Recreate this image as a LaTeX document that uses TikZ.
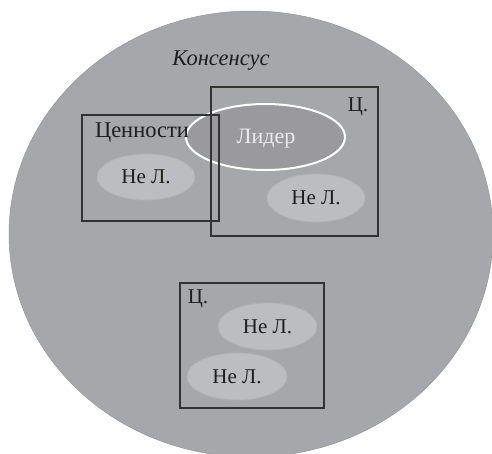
\documentclass[tikz,border=0pt]{standalone}
\usepackage{fontspec}
\setmainfont{Liberation Serif}
\usetikzlibrary{shapes.geometric}
\definecolor{bgray}{HTML}{A6A7AB}
\definecolor{lgray}{HTML}{9A9A9E}
\definecolor{egray}{HTML}{BCBDC0}
\definecolor{eedge}{HTML}{B2B3B6}
\definecolor{lineg}{HTML}{333333}
\definecolor{txt}{HTML}{1E1E1E}
\begin{document}
\begin{tikzpicture}[x=1pt,y=-1pt,
  bigell/.style={ellipse,fill=bgray,draw=bgray!90!black,line width=0.5pt,inner sep=0},
  nel/.style={ellipse,fill=egray,draw=eedge,line width=0.8pt,inner sep=0,font=\fontsize{21}{23}\selectfont,text=txt},
  leader/.style={ellipse,fill=lgray,draw=white,line width=2pt,inner sep=0,font=\fontsize{22}{24}\selectfont,text=white!92!black},
  frame/.style={rectangle,draw=lineg,line width=1.1pt,inner sep=0},
  lbl/.style={inner sep=0,font=\fontsize{21}{23}\selectfont,text=txt}]
\useasboundingbox (0,0) rectangle (492,453);
\fill[white] (0,0) rectangle (492,453);
\node[bigell,minimum width=484pt,minimum height=446pt] (cons) at (251,234) {};
\node[lbl,font=\fontsize{22.5}{24}\selectfont\itshape] (konsensus) at (221,61) {Консенсус};
% leader ellipse
\node[leader,minimum width=159pt,minimum height=66pt] (lider) at (265.5,137) {};
\node[inner sep=0,font=\fontsize{22}{24}\selectfont,text=white!92!black] (lidertxt) at (266,139) {Лидер};
% boxes
\node[frame,minimum width=137pt,minimum height=106pt] (box1) at (150.5,168) {};
\node[frame,minimum width=167pt,minimum height=149pt] (box2) at (294.5,161.5) {};
\node[frame,minimum width=144pt,minimum height=125pt] (box3) at (252,345.5) {};
% labels
\node[lbl,font=\fontsize{22.5}{24}\selectfont] (cen) at (142,133) {Ценности};
\node[lbl] (c1) at (358,107) {Ц.};
\node[lbl] (c2) at (198,299) {Ц.};
% small ellipses
\node[nel,minimum width=98pt,minimum height=46pt] (n1) at (146,177) {Не Л.};
\node[nel,minimum width=98pt,minimum height=48pt] (n2) at (316,198) {Не Л.};
\node[nel,minimum width=99pt,minimum height=47pt] (n3) at (267.5,326.5) {Не Л.};
\node[nel,minimum width=100pt,minimum height=47pt] (n4) at (237,376.5) {Не Л.};
\end{tikzpicture}
\end{document}
